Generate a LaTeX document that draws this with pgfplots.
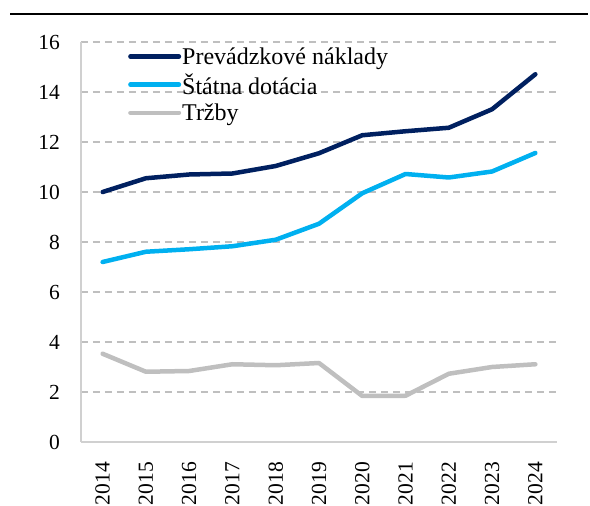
\documentclass[border=0pt]{standalone}
\usepackage{fontspec}
\setmainfont{Liberation Serif}
\usepackage{pgfplots}
\pgfplotsset{compat=1.18}
\definecolor{navy}{HTML}{002060}
\definecolor{lblue}{HTML}{00B0F0}
\definecolor{lgrey}{HTML}{BFBFBF}
\definecolor{axgrey}{HTML}{D0D0D0}
\begin{document}
\begin{tikzpicture}
\begin{axis}[
  at={(81pt,64pt)}, anchor=south west,
  scale only axis, width=476pt, height=400pt,
  xmin=-0.5, xmax=10.5, ymin=0, ymax=16,
  xtick={0,...,10},
  xticklabels={2014,2015,2016,2017,2018,2019,2020,2021,2022,2023,2024},
  ytick={0,2,...,16},
  axis x line*=bottom, axis y line*=left,
  axis line style={axgrey, line width=1.5pt},
  major tick length=0pt,
  ymajorgrids,
  grid style={lgrey, dash pattern=on 7pt off 5pt, line width=1.4pt},
  /pgf/number format/assume math mode=true,
  tick label style={font=\fontsize{21.5}{25}\selectfont, inner sep=0pt},
  yticklabel style={anchor=east, xshift=-21pt},
  xticklabel style={rotate=90, anchor=east, xshift=-20pt},
  legend style={draw=none, fill=none, at={(0.0987,0.997)}, anchor=north west,
    inner sep=0pt, font=\fontsize{24}{29}\selectfont,
    nodes={inner xsep=1pt, inner ysep=4pt}},
  legend cell align=left,
  legend image code/.code={\draw[#1] (2.25pt,0pt) -- (50.75pt,0pt);},
  every axis plot/.append style={line width=4.5pt, line cap=round, line join=round},
]
\addplot[navy] coordinates {(0,10.0) (1,10.55) (2,10.7) (3,10.74) (4,11.04) (5,11.55) (6,12.27) (7,12.43) (8,12.57) (9,13.31) (10,14.71)};
\addlegendentry{Prevádzkové náklady}
\addplot[lblue] coordinates {(0,7.2) (1,7.61) (2,7.71) (3,7.83) (4,8.09) (5,8.73) (6,9.95) (7,10.72) (8,10.58) (9,10.82) (10,11.56)};
\addlegendentry{Štátna dotácia}
\addplot[lgrey] coordinates {(0,3.53) (1,2.81) (2,2.84) (3,3.11) (4,3.07) (5,3.16) (6,1.84) (7,1.85) (8,2.73) (9,3.0) (10,3.11)};
\addlegendentry{Tržby}
\end{axis}
\draw[black, line width=1.3pt] (10pt,492pt) -- (588pt,492pt);
\pgfresetboundingbox
\path[use as bounding box] (0,0) rectangle (590pt,506pt);
\end{tikzpicture}
\end{document}
